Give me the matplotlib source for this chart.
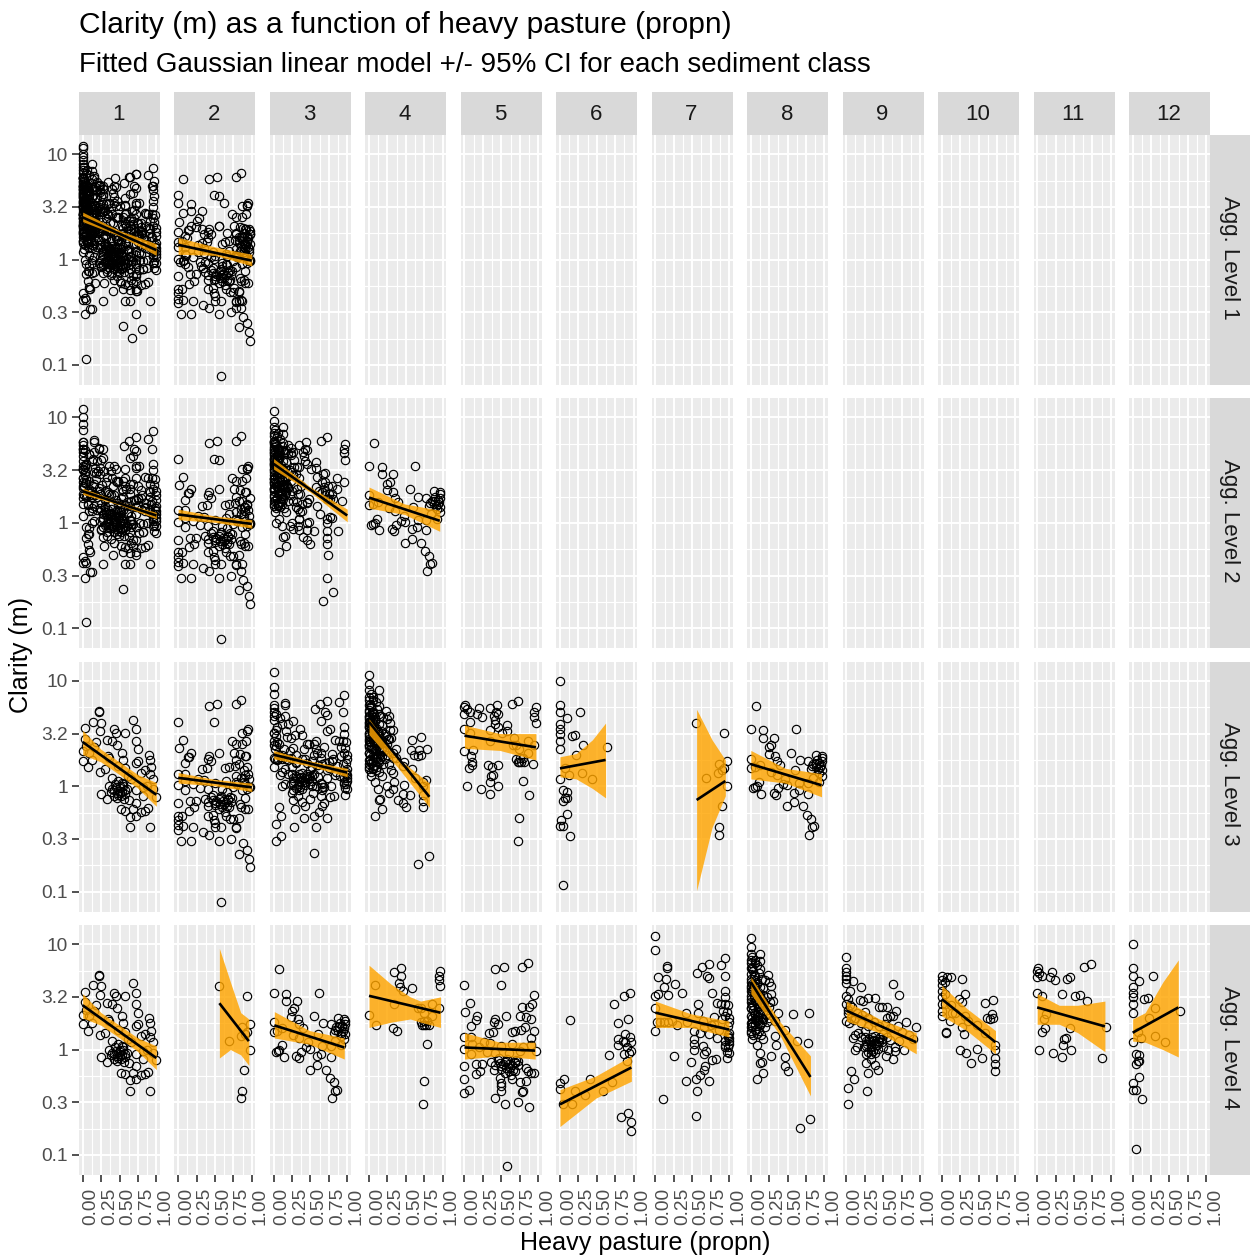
import numpy as np
import matplotlib
matplotlib.use("Agg")
import matplotlib.pyplot as plt
from matplotlib.ticker import FixedLocator, NullFormatter

plt.rcParams['font.family'] = ['Liberation Sans', 'DejaVu Sans']

# ---- estimated observations per sediment class: heavy pasture proportion and log10 clarity
c1_x = [.22,.22,.14,.25,.03,.68,.73,.42,.45,.58,.24,.72,.33,.40,.46,.18,.75,.54,.90,.91,.75,.72,.55,.93,.85,.79,.92,.96,.07,0,0,.12,.23,.30,.36,.57,.61,.40,.36,.45,.50,.55,.57,.48,.43,.25,.33,.52,.63,.73,.82,1.0,.88,.72,.52,.58,.69,.79,.84,.89,.73,.64,.64,.91,.03,.05,.16,.34,.48,.66,.82,.95,.09,
        .40,.44,.47,.50,.53,.55,.58,.42,.46,.50,.54,.60,.38,.48,.56]
c1_y = [.71,.70,.61,.60,.55,.63,.54,.54,.51,.51,.52,.43,.44,.43,.39,.42,.35,.32,.30,.25,.24,.22,.25,.18,.15,.13,.12,.07,.18,.33,.24,.25,.14,.16,.27,.17,.10,.08,0,-.01,0,.02,-.04,-.08,-.04,-.07,-.12,-.09,-.13,-.16,-.09,-.10,0,-.04,-.22,-.23,-.22,-.24,-.23,-.21,-.28,-.29,-.39,-.39,.45,.38,.37,.29,.19,.07,-.01,-.03,.32,
        -.03,.02,-.06,-.02,-.05,0,-.07,-.09,-.11,-.06,.03,-.03,-.05,.05,-.12]
c2_x = [.55,.93,.97,.87,.69,.85,.93,.97,.90,.87,.86,.91]
c2_y = [.60,.51,.24,.21,.08,.13,.17,0,-.19,-.39,-.46,.15]
c3_x = [.07,0,.17,.17,.32,.62,.28,.25,.24,.33,.35,.55,.67,.78,.88,.96,.97,.83,.89,.94,.97,.91,.82,0,0,.11,.08,.03,.06,.14,.31,.34,.37,.44,.49,.59,.65,.78,.49,.59,.71,.76,.82,.86,.83,.79,.05,.27,.35,.47,.60,.66,.78,.84,.92,.12,.40,
        .90,.93,.95,.97,.92,.88,.85,.96]
c3_y = [.76,.54,.53,.46,.46,.54,.39,.37,.31,.29,.24,.32,.25,.24,.30,.29,.24,.19,.21,.18,.15,.16,.16,.26,.17,.04,0,-.02,-.01,-.07,-.06,-.08,-.02,.02,.01,-.06,-.04,-.07,-.19,-.15,-.19,-.27,-.31,-.38,-.39,-.46,.18,.14,.11,.07,.15,.03,.03,.08,.04,.20,.20,
        .25,.22,.20,.27,.13,.18,.21,.10]
c4_x = [.34,.44,.43,.41,.42,.46,.58,.08,0,.10,.32,.38,.34,.86,.95,.66,.74,.86,.75,.70,.72,.77,.81,.97,.95,.95,.97,.79,.74,.73,.74,.70,.79]
c4_y = [.74,.77,.70,.63,.59,.56,.58,.61,.33,.23,.20,.18,.43,.43,.39,.39,.35,.32,.27,.26,.23,.23,.23,.75,.70,.66,.60,.05,-.30,-.52,.23,.39,.27]
c5_x = [0,.42,.53,.78,.86,.49,.94,.07,.01,.92,.87,.78,.17,.15,.09,.42,.56,.40,.45,.76,.91,.84,.82,.77,.94,.33,.39,.64,.69,.91,0,.09,0,.97,.27,.41,.09,0,.16,.24,.21,.15,.36,.41,.48,.57,.50,.57,.61,.68,.73,.66,.69,.86,.95,.91,.84,.48,.49,.50,.50,.65,.75,.83,.79,.78,0,.06,0,.42,.55,.72,.88,.58,.10,.20,.35,.50,.65,.80,.90,.30,.60,.75,
        .45,.50,.55,.60,.65,.70,.52,.62,.68,.58,.72,.47,.40,.55,.63]
c5_y = [.61,.76,.78,.78,.82,.61,.52,.44,.36,.43,.40,.40,.32,.28,.22,.29,.32,.26,.24,.32,.29,.31,.21,.19,.18,.16,.17,.17,.18,.11,.12,.12,.01,-.01,.07,-.03,-.04,-.16,-.14,-.14,-.20,-.23,-.12,-.15,-.13,-.11,-.16,-.17,-.14,-.12,-.11,-.19,-.20,-.20,-.22,-.22,-.17,-.27,-.32,-.35,-.39,-.28,-.31,-.30,-.39,-.40,-.28,-.38,-.41,-.46,-.52,-.50,-.54,-1.10,.05,.02,.06,.03,.05,.02,.04,-.02,-.03,-.01,
        -.10,-.18,-.12,-.20,-.15,-.10,-.14,-.17,-.13,-.09,-.15,-.08,-.19,-.22,-.24]
c6_x = [.14,.05,0,0,.41,.20,.34,.58,.71,.17,.04,.73,.87,.95,.79,.92,.79,.79,.89,.95,.96,.86,.91,.87,.96,.66,.91,.83,.93,.96,.97,.89,.94]
c6_y = [.28,-.28,-.32,-.37,-.28,-.39,-.43,-.39,-.31,-.52,-.52,.43,.51,.54,.25,.29,.10,.04,.15,.12,.07,.08,.02,-.04,-.01,-.05,-.11,-.64,-.60,-.69,-.77,.07,-.03]
c7_x = [0,0,.16,.16,.03,.15,.27,.12,.36,.17,.03,0,.12,.02,.06,.17,0,0,.41,.25,.10,.55,.57,.41,.55,.73,.61,.68,.66,.49,.82,.77,.97,.69,.66,.64,.52,.52,.52,.52,.61,.73,.84,.95,.95,.97,1.0,1.0,.91,.79,.64,.58,.58,.77,.84,.95,.94,.98,.92,.95,.89,.56,.63,.73,.70,.73,.89,.95,.94,.95,1.0,.95,1.0,.30,.43,.23,.79,.86,.75,.66,
        1.0,.99,.98,1.0,.97,.99,1.0,.98]
c7_y = [1.08,.94,.79,.77,.69,.67,.62,.59,.54,.52,.53,.51,.26,.26,.26,.26,.39,.18,.35,-.06,-.47,-.63,-.39,-.30,-.28,-.30,-.24,-.16,-.19,-.12,-.09,-.10,-.08,-.01,-.04,.03,0,.05,.10,.18,.16,.15,.11,.08,.02,-.02,.16,.26,.29,.31,.27,.35,.43,.54,.44,.56,.43,.42,.37,.32,.43,.73,.78,.81,.70,.68,.80,.87,.70,.50,.11,.04,.05,.23,.26,.27,.24,.19,.23,.21,
        .30,.22,.12,.08,.36,.02,-.03,.14]
c8_x = [0,0,.13,0,0,.06,.13,.01,.13,0,0,.06,.15,.23,.24,.28,.08,.01,.17,0,.08,.28,.22,.13,.04,0,.26,.15,.08,.01,0,.30,.04,.13,0,.17,.08,.01,.22,.13,0,0,.06,.37,.33,.57,.79,.46,.33,.34,.17,.08,.12,.27,.15,.13,.17,.08,.46,.46,.50,.63,.77,.81,.67,0,.03,.09,0,0,0,.06,0,.13,.19,.04,.10,.17,.24,0,.06,.15,.19,0,.02,.05,.11,.03,.07,.01,.10,.14,.05,.20,.03,.09,.02,.12,.16,.06,
        0,.02,.04,.06,.08,.10,.12,.14,0,.02,.04,.07,.09,.11,.13,.16,.01,.03,.05,.08,.10,.12,.15,.18,0,.02,.05,.07,.11,.14,.20,.25]
c8_y = [1.06,.97,.91,.91,.85,.85,.84,.78,.76,.77,.72,.70,.67,.71,.64,.60,.64,.62,.58,.56,.54,.53,.50,.50,.50,.48,.45,.42,.43,.42,.39,.46,.35,.34,.32,.29,.27,.26,.26,.23,.18,.16,.19,.35,.27,.34,.35,.19,.13,.04,.10,.04,-.03,-.06,-.12,-.13,-.22,-.28,-.07,-.16,-.20,.08,.06,-.66,-.74,.67,.75,.80,.58,.51,.45,.46,.64,.59,.66,.61,.39,.37,.40,.39,.29,.26,.21,.21,.88,.82,.73,.57,.47,.30,.31,.44,.55,.34,.14,.15,.10,.52,.44,.60,
        .82,.76,.70,.66,.62,.55,.50,.48,.60,.55,.52,.47,.44,.41,.36,.52,.42,.38,.34,.33,.28,.24,.30,.44,.25,.22,.24,.19,.18,.14,.33,.30]
c9_x = [0,0,0,0,0,.09,0,.20,.05,.64,.72,0,.03,.18,.23,.29,.39,0,.45,.48,.55,.68,.26,.59,.64,.55,0,.81,.94,.12,.16,.09,.25,.39,.45,.32,.34,.41,.48,.27,.12,.15,.36,.34,.57,.66,.78,.66,.54,.64,.33,.27,.39,.43,.29,.07,.10,.03,.28,.03,.03,.08,.14,.22,.30,.38,.45,.52,.60,.70,.75,.85,.90,.10,.20,.30,.50,.55,.20,.35,.43,.50,.27,.72,.60,
        .25,.28,.31,.34,.37,.40,.43,.46,.30,.33,.36,.39,.42,.45,.48,.24,.27,.05,.07,.12,.02,.04]
c9_y = [.88,.77,.74,.70,.67,.65,.63,.59,.56,.62,.52,.51,.48,.47,.46,.49,.49,.43,.40,.40,.40,.37,.36,.32,.32,.30,.27,.26,.21,.14,.16,.11,.18,.13,.10,.08,.05,.04,.07,.03,0,.02,-.01,-.04,0,.02,0,-.01,-.06,-.09,-.09,-.13,-.15,-.19,-.22,-.20,-.28,-.36,-.39,-.52,.38,.40,.35,.33,.30,.26,.22,.24,.20,.22,.17,.14,.10,.28,.25,.22,.15,.12,.12,.12,.08,.02,.08,.08,.09,
        .12,.05,.10,.02,.09,.06,.01,.12,-.02,0,.08,-.03,.04,.07,.10,.02,-.04,.42,.30,.30,.35,.25]
c10_x = [0,.07,.13,0,.05,.27,0,0,.32,0,0,0,.23,.59,.70,.27,.68,.61,.70,.66,.11,.06,.06,.27,.30,.25,.33,.48,.55,.40,.73,.73,.73,.73,.73,.14,.05,.18,.36,.48,.59,.32,.05,.12,0]
c10_y = [.70,.69,.69,.66,.64,.67,.61,.56,.53,.50,.43,.37,.48,.44,.47,.45,.34,.30,.30,.29,.27,.16,.17,.21,.15,0,-.03,.01,-.08,-.13,.04,0,-.08,-.14,-.20,.35,.43,.35,.27,.23,.16,.32,.53,.42,.32]
c11_x = [.01,0,.03,0,.07,.20,.17,.24,.40,.45,.64,.73,0,.07,.34,.51,.58,.67,.12,.09,.10,.06,.45,.93,.39,.36,.35,.03,.46,.22,.34,.88]
c11_y = [.77,.75,.73,.69,.70,.74,.69,.66,.67,.69,.78,.81,.54,.51,.53,.51,.52,.46,.34,.29,.20,.17,.20,.21,.11,.10,.04,0,0,-.03,-.07,-.08]
c12_x = [0,0,0,.09,.27,0,0,0,.16,.21,0,0,.31,.22,.64,.12,.30,.44,0,.07,.04,.09,.09,.04,.07,.09,.01,0,.04,.13,.04]
c12_y = [1.0,.77,.70,.65,.70,.59,.54,.50,.48,.49,.43,.35,.39,.30,.37,.11,.13,.07,.07,.17,-.04,-.05,-.11,-.14,-.11,-.26,-.32,-.38,-.38,-.47,-.94]

# ---- which sediment classes are pooled in each panel of the three coarser levels
level3_members = {1:[1], 2:[5,6], 3:[7,9], 4:[8,10], 5:[4,11], 6:[12], 7:[2], 8:[3]}
level2_members = {1:[1,7,9,12], 2:[5,6,2], 3:[8,10,4,11], 4:[3]}
level1_members = {1:[1,7,9,12,8,10,4,11], 2:[5,6,2,3]}

# ---- fitted line (start, end) and 95% CI band, log10 clarity
r1c1_x=[0,.5,1]; r1c1_lo=[.36,.225,.04]; r1c1_hi=[.45,.275,.15]; r1c1_fit=[.40,.09]
r1c2_x=[0,.5,1]; r1c2_lo=[.05,.04,-.06]; r1c2_hi=[.21,.12,.05]; r1c2_fit=[.14,-.01]
r2c1_x=[0,.5,1]; r2c1_lo=[.27,.17,.04]; r2c1_hi=[.33,.20,.10]; r2c1_fit=[.30,.07]
r2c2_x=[0,.5,1]; r2c2_lo=[.03,.005,-.05]; r2c2_hi=[.13,.065,.03]; r2c2_fit=[.08,-.01]
r2c3_x=[0,.5,1]; r2c3_lo=[.51,.29,.01]; r2c3_hi=[.61,.34,.13]; r2c3_fit=[.56,.07]
r2c4_x=[0,.48,.96]; r2c4_lo=[.14,.08,-.08]; r2c4_hi=[.34,.18,.12]; r2c4_fit=[.24,.02]
r3c1_x=[0,.25,.5,.75,1]; r3c1_lo=[.30,.23,.11,-.02,-.19]; r3c1_hi=[.53,.35,.23,.11,.035]; r3c1_fit=[.42,-.08]
r3c2_x=[0,.5,1]; r3c2_lo=[.03,.005,-.05]; r3c2_hi=[.13,.065,.03]; r3c2_fit=[.08,-.01]
r3c3_x=[0,.5,1]; r3c3_lo=[.26,.19,.09]; r3c3_hi=[.34,.24,.17]; r3c3_fit=[.30,.13]
r3c4_x=[0,.4,.82]; r3c4_lo=[.49,.17,-.20]; r3c4_hi=[.64,.26,.03]; r3c4_fit=[.61,-.10]
r3c5_x=[0,.48,.97]; r3c5_lo=[.36,.34,.25]; r3c5_hi=[.58,.50,.50]; r3c5_fit=[.48,.37]
r3c6_x=[0,.22,.44,.62]; r3c6_lo=[.09,.07,-.02,-.11]; r3c6_hi=[.28,.31,.44,.60]; r3c6_fit=[.17,.25]
r3c7_x=[.56,.77,.95]; r3c7_lo=[-.99,-.39,-.09]; r3c7_hi=[.73,.44,.25]; r3c7_fit=[-.13,.05]
r3c8_x=[0,.47,.96]; r3c8_lo=[.07,.03,-.10]; r3c8_hi=[.34,.17,.12]; r3c8_fit=[.21,.01]
r4c1_x=[0,.25,.5,.75,1]; r4c1_lo=[.30,.23,.11,-.02,-.19]; r4c1_hi=[.53,.35,.23,.11,.035]; r4c1_fit=[.42,-.08]
r4c2_x=[.56,.71,.85,.96]; r4c2_lo=[-.08,0,-.05,-.15]; r4c2_hi=[.96,.64,.35,.29]; r4c2_fit=[.44,.08]
r4c3_x=[.01,.49,.96]; r4c3_lo=[.11,.05,-.09]; r4c3_hi=[.36,.18,.11]; r4c3_fit=[.23,.02]
r4c4_x=[0,.3,.56,.7,.97]; r4c4_lo=[.21,.26,.29,.26,.21]; r4c4_hi=[.80,.62,.50,.46,.50]; r4c4_fit=[.51,.35]
r4c5_x=[0,.48,.96]; r4c5_lo=[-.09,-.06,-.09]; r4c5_hi=[.16,.07,.07]; r4c5_fit=[.02,-.01]
r4c6_x=[0,.49,.97]; r4c6_lo=[-.73,-.46,-.30]; r4c6_hi=[-.38,-.25,-.06]; r4c6_fit=[-.52,-.17]
r4c7_x=[0,.48,1]; r4c7_lo=[.21,.21,.12]; r4c7_hi=[.46,.34,.27]; r4c7_fit=[.35,.19]
r4c8_x=[0,.4,.81]; r4c8_lo=[.53,.13,-.44]; r4c8_hi=[.69,.26,-.06]; r4c8_fit=[.64,-.26]
r4c9_x=[0,.45,.95]; r4c9_lo=[.27,.16,-.04]; r4c9_hi=[.46,.29,.16]; r4c9_fit=[.37,.07]
r4c10_x=[0,.34,.73]; r4c10_lo=[.32,.18,-.04]; r4c10_hi=[.61,.39,.18]; r4c10_fit=[.48,.07]
r4c11_x=[0,.3,.55,.92]; r4c11_lo=[.24,.24,.16,-.02]; r4c11_hi=[.53,.42,.42,.46]; r4c11_fit=[.40,.22]
r4c12_x=[0,.17,.41,.62]; r4c12_lo=[.08,.07,0,-.07]; r4c12_hi=[.29,.35,.64,.85]; r4c12_fit=[.16,.40]

title = "Clarity (m) as a function of heavy pasture (propn)"
subtitle = "Fitted Gaussian linear model +/- 95% CI for each sediment class"
ylabel = "Clarity (m)"
xlabel = "Heavy pasture (propn)"
row_labels = ["Agg. Level 1", "Agg. Level 2", "Agg. Level 3", "Agg. Level 4"]
y_ticks = [0.1, 10**-0.5, 1, 10**0.5, 10]
y_tick_labels = ["0.1", "0.3", "1", "3.2", "10"]
x_ticks = [0, .25, .5, .75, 1]
x_tick_labels = ["0.00", "0.25", "0.50", "0.75", "1.00"]

W, H = 1250, 1259
fig = plt.figure(figsize=(W/100, H/100), dpi=100, facecolor='white')
def rect(x0, y0, x1, y1):
    return [x0/W, 1-y1/H, (x1-x0)/W, (y1-y0)/H]

PANEL_W = 81
STEP_X = 95.45
ROW_TOP = [135, 398.3, 661.7, 925]
PANEL_H = 250
leaf = {i: (globals()[f"c{i}_x"], globals()[f"c{i}_y"]) for i in range(1, 13)}
members = [level1_members, level2_members, level3_members, {i: [i] for i in range(1, 13)}]
minor_y = [10**v for v in (-1.25, -.75, -.25, .25, .75)]
minor_x = [.125, .375, .625, .875]

for r in range(4):
    for c in range(12):
        x0 = 79 + c*STEP_X
        top = ROW_TOP[r]
        ax = fig.add_axes(rect(x0, top, x0+PANEL_W, top+PANEL_H))
        ax.set_facecolor('#EBEBEB')
        ax.set_yscale('log')
        ax.set_xlim(-.05, 1.05)
        ax.set_ylim(0.0646, 15.2)
        for s in ax.spines.values():
            s.set_visible(False)
        ax.xaxis.set_major_locator(FixedLocator(x_ticks))
        ax.xaxis.set_minor_locator(FixedLocator(minor_x))
        ax.yaxis.set_major_locator(FixedLocator(y_ticks))
        ax.yaxis.set_minor_locator(FixedLocator(minor_y))
        ax.yaxis.set_minor_formatter(NullFormatter())
        ax.grid(True, which='major', color='white', lw=1.4, zorder=1)
        ax.grid(True, which='minor', color='white', lw=0.8, zorder=1)
        ax.set_axisbelow(True)
        ax.tick_params(which='minor', length=0)
        ax.tick_params(which='major', length=5, width=1.2, color='#333333', labelcolor='#4D4D4D')
        if c == 0:
            ax.set_yticklabels(y_tick_labels, fontsize=13.8)
            ax.tick_params(axis='y', pad=3)
        else:
            ax.tick_params(axis='y', which='major', left=False, labelleft=False)
        if r == 3:
            ax.set_xticklabels(x_tick_labels, rotation=90, fontsize=13.8, ha='left')
            ax.tick_params(axis='x', pad=4)
        else:
            ax.tick_params(axis='x', which='major', bottom=False, labelbottom=False)

        panel = c + 1
        if panel in members[r]:
            xs, ys = [], []
            for m in members[r][panel]:
                xs += list(leaf[m][0])
                ys += list(leaf[m][1])
            ax.plot(xs, 10**np.array(ys, dtype=float), ls='none', marker='o', mfc='none',
                    mec='black', mew=0.85, ms=6.0, zorder=3, clip_on=False)
            tag = f"r{r+1}c{panel}"
            bx = globals()[tag+"_x"]
            ax.fill_between(bx, 10**np.array(globals()[tag+"_lo"]), 10**np.array(globals()[tag+"_hi"]),
                            color='#FFA500', alpha=0.82, lw=0, zorder=4)
            ax.plot([bx[0], bx[-1]], 10**np.array(globals()[tag+"_fit"]), color='black', lw=1.9,
                    zorder=5, solid_capstyle='butt')

        if r == 0:
            sa = fig.add_axes(rect(x0, 92, x0+PANEL_W, top))
            sa.set_facecolor('#D9D9D9')
            sa.set_xticks([]); sa.set_yticks([])
            for s in sa.spines.values():
                s.set_visible(False)
            sa.text(.49, .47, str(panel), ha='center', va='center', fontsize=16, color='#1A1A1A',
                    transform=sa.transAxes)
    sb = fig.add_axes(rect(79+11*STEP_X+PANEL_W, ROW_TOP[r], 1250, ROW_TOP[r]+PANEL_H))
    sb.set_facecolor('#D9D9D9')
    sb.set_xticks([]); sb.set_yticks([])
    for s in sb.spines.values():
        s.set_visible(False)
    sb.text(.5, .51, row_labels[r], rotation=-90, ha='center', va='center', fontsize=16,
            color='#1A1A1A', transform=sb.transAxes)

fig.text(79/W, 1-25/H, title, fontsize=21.6, ha='left', va='center', color='black')
fig.text(79/W, 1-65/H, subtitle, fontsize=20, ha='left', va='center', color='black')
fig.text(21/W, 1-655/H, ylabel, rotation=90, fontsize=18.1, ha='center', va='center', color='black')
fig.text(645/W, 1-1243/H, xlabel, fontsize=18.1, ha='center', va='center', color='black')

fig.savefig('out.png', dpi=100, facecolor='white')
